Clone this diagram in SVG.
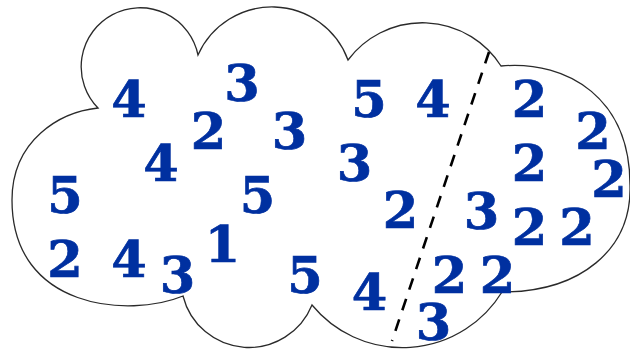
<svg xmlns="http://www.w3.org/2000/svg" width="630" height="349" viewBox="0 0 630 349">
<style>
.num{font-family:"DejaVu Serif","Liberation Serif",serif;font-weight:bold;font-size:51px;fill:#0030a0;stroke:#0030a0;stroke-width:0.7;text-anchor:middle}
.cloud{fill:#fff;stroke:#2a2a2a;stroke-width:1.3}
.div{stroke:#000;stroke-width:2.6;stroke-dasharray:12 9.7;fill:none}
</style>
<rect width="630" height="349" fill="#fff"/>
<g id="cloud">
<path class="cloud" d="M98,108 A59,59 0 1 1 198,55 A81,81 0 0 1 348,60 A93,93 0 0 1 501,66 C570,60 630,100 630,185 C632,250 580,292 502,292 A117,117 0 0 1 312,305 A68,68 0 0 1 183,296 C130,318 12,310 12,200 C12,140 60,112 98,108 Z"/>
</g>
<g id="connectors">
<line class="div" x1="489" y1="52" x2="392" y2="341"/>
</g>
<g id="numbers">
<text class="num" x="129" y="117">4</text>
<text class="num" x="242" y="101">3</text>
<text class="num" x="208.5" y="149">2</text>
<text class="num" x="289.5" y="149">3</text>
<text class="num" x="369" y="117">5</text>
<text class="num" x="433" y="117">4</text>
<text class="num" x="529.5" y="117">2</text>
<text class="num" x="593" y="149">2</text>
<text class="num" x="161" y="181">4</text>
<text class="num" x="354.5" y="181">3</text>
<text class="num" x="529.5" y="181">2</text>
<text class="num" x="609" y="197">2</text>
<text class="num" x="65" y="213">5</text>
<text class="num" x="257.5" y="213">5</text>
<text class="num" x="400.5" y="228">2</text>
<text class="num" x="481.5" y="229">3</text>
<text class="num" x="529.5" y="245">2</text>
<text class="num" x="577" y="245">2</text>
<text class="num" x="222.5" y="262">1</text>
<text class="num" x="65" y="277">2</text>
<text class="num" x="129" y="277">4</text>
<text class="num" x="177.5" y="293">3</text>
<text class="num" x="305" y="293">5</text>
<text class="num" x="449.5" y="293">2</text>
<text class="num" x="497.5" y="293">2</text>
<text class="num" x="369.5" y="310">4</text>
<text class="num" x="433.5" y="340">3</text>
</g>
</svg>
